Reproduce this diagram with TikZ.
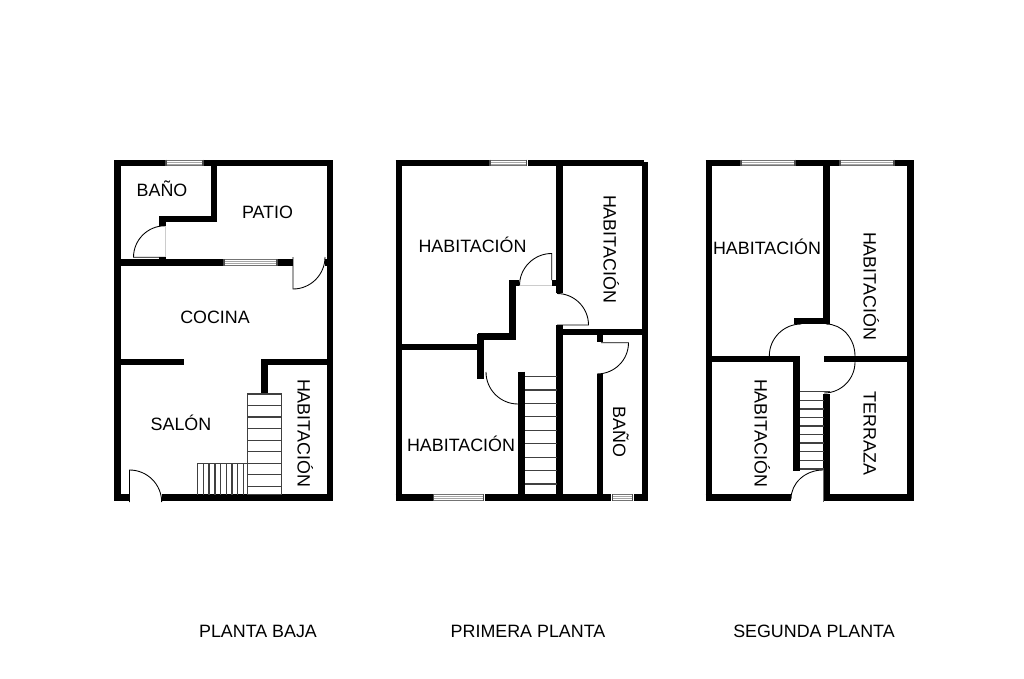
\documentclass[tikz,border=0pt]{standalone}
\usepackage{fontspec}
\setmainfont{Liberation Sans}
\tikzset{
  wall/.style={line width=5.1pt,line cap=butt,line join=miter,black},
  thin line/.style={line width=0.65pt,black},
  tread/.style={line width=0.8pt,black!75},
  ghost/.style={line width=0.5pt,black!20},
  room/.style={font=\fontsize{13.4pt}{15pt}\selectfont,text height=9.7pt,text depth=0pt,inner sep=0pt,anchor=center},
  roomv/.style={room,rotate=-90}
}
\newcommand{\hwin}[3]{%
  \fill[white] (#1,#3-3.4) rectangle (#2,#3+3.4);
  \draw[line width=0.7pt,black!55] (#1+1.5,#3-2.8) -- (#2-1.5,#3-2.8) (#1+1.5,#3+2.8) -- (#2-1.5,#3+2.8);
  \draw[line width=0.6pt,black!35] (#1+1.5,#3-1) -- (#2-1.5,#3-1) (#1+1.5,#3+1) -- (#2-1.5,#3+1);
  \draw[line width=1.1pt,black!70] (#1+1,#3-3.4) -- (#1+1,#3+3.4) (#2-1,#3-3.4) -- (#2-1,#3+3.4);
}
\begin{document}
\begin{tikzpicture}[x=0.75pt,y=-0.75pt]
\useasboundingbox (0,0) rectangle (1024,678);
\fill[white] (0,0) rectangle (1024,678);

% ---------- PLANTA BAJA ----------
\draw[wall] (114,163) -- (333.3,163);
\draw[wall] (117.3,160) -- (117.3,501);
\draw[wall] (330,160) -- (330,501);
\draw[wall] (114,497.7) -- (129.5,497.7) (161.7,497.7) -- (333.3,497.7);
\draw[wall] (214,163) -- (214,222) (217.2,219) -- (159.3,219) (162.3,216) -- (162.3,225.5);
\draw[wall] (117,262.7) -- (292.7,262.7) (325,262.7) -- (330,262.7);
\draw[wall] (162.3,257) -- (162.3,262);
\draw[wall] (117,362) -- (184.3,362);
\draw[wall] (330,362) -- (261.1,362) (264.3,359) -- (264.3,394);
\hwin{165}{204}{163}
\hwin{223}{278}{262.7}
% doors
\draw[thin line] (165,257.3) -- (133.5,257.3) arc[start angle=180,end angle=270,radius=31.5];
\draw[ghost] (165,225.8) -- (165,257.3);
\draw[thin line] (293,257) -- (293,289) arc[start angle=90,end angle=0,radius=32];
\draw[thin line] (129.5,502) -- (129.5,470) arc[start angle=-90,end angle=0,radius=32.2];
% stairs
\draw[tread] (247.7,394) rectangle (281.7,494.5);
\foreach \y in {405.5,417,428.7,440.3,451.7,463.3,474.7,486.2} \draw[tread] (247.7,\y) -- (281.7,\y);
\draw[tread] (247.7,463.3) -- (197.3,463.3);
\foreach \x in {197.3,203.2,209,215,220.7,226.7,232,237.7,243.3} \draw[tread] (\x,463.3) -- (\x,494.5);

% ---------- PRIMERA PLANTA ----------
\draw[wall] (395.7,163) -- (644.3,163);
\draw[wall] (399,160) -- (399,501);
\draw[wall] (645,162) -- (645,501);
\draw[wall] (395.7,497.7) -- (648.3,497.7);
\draw[wall] (559.5,160) -- (559.5,293);
\draw[wall] (559.5,325) -- (559.5,497);
\draw[wall] (556.5,332) -- (645,332);
\draw[wall] (509.3,283) -- (519.3,283) (551.7,283) -- (557,283);
\draw[wall] (512.3,280) -- (512.3,339.7) (515.3,336.7) -- (477.7,336.7) (480.7,333.7) -- (480.7,379.3);
\draw[wall] (402,347) -- (480,347);
\draw[line width=5.4pt,black] (521.7,371.7) -- (521.7,497);
\draw[wall] (600,332) -- (600,342.3) (600,374.3) -- (600,497);
\hwin{489}{527.7}{163}
\hwin{432.7}{484.7}{497.7}
\hwin{611.3}{633.7}{497.7}
% doors
\draw[thin line] (519.5,285.7) arc[start angle=180,end angle=270,radius=32.2] -- (551.7,280);
\draw[ghost] (519.5,285.7) -- (551.7,285.7);
\draw[thin line] (557,293.5) arc[start angle=-90,end angle=0,radius=31.5] -- (557,325);
\draw[thin line] (486,372) arc[start angle=180,end angle=90,radius=32];
\draw[thin line] (601,342.7) -- (628.5,342.7) arc[start angle=0,end angle=90,radius=31.2];
% stairs
\foreach \y in {376.7,390,403.3,416.7,430.3,443.7,457.3,470.7,484} \draw[tread] (525,\y) -- (557,\y);

% ---------- SEGUNDA PLANTA ----------
\draw[wall] (705.7,163) -- (913.3,163);
\draw[wall] (709,160) -- (709,501);
\draw[wall] (910.3,160) -- (910.3,501);
\draw[wall] (705.7,497.5) -- (790.7,497.5) (823.3,497.5) -- (913.3,497.5);
\draw[wall] (826.8,160) -- (826.8,324) (830,321) -- (793.7,321);
\draw[wall] (709,359) -- (800,359) (796.7,356) -- (796.7,471);
\draw[wall] (824.3,359) -- (910,359);
\draw[wall] (826.8,394) -- (826.8,497);
\hwin{740}{796}{163}
\hwin{839}{895}{163}
% doors
\draw[thin line] (769.3,356) arc[start angle=180,end angle=270,radius=32];
\draw[thin line] (826,324) arc[start angle=-90,end angle=0,x radius=29,y radius=32];
\draw[thin line] (855,356) -- (855,362) arc[start angle=0,end angle=90,radius=31];
\draw[thin line] (791,499) arc[start angle=180,end angle=270,x radius=32,y radius=29];
\draw[line width=0.8pt,black!60] (823.2,470) -- (823.2,502);
% stairs
\draw[tread] (800,391.7) -- (830,391.7);
\foreach \y in {400.3,409,417.3,426,434.7,443,451.7,460.3,469} \draw[tread] (800,\y) -- (823.7,\y);

% ---------- LABELS ----------
\node[room] (banoA) at (162,190) {BAÑO};
\node[room] (patio) at (267.5,212.5) {PATIO};
\node[room] (cocina) at (215,317.5) {COCINA};
\node[room] (salon) at (181,424.5) {SALÓN};
\node[roomv] (habA) at (304,433) {HABITACIÓN};
\node[room] (habB) at (472.5,246.5) {HABITACIÓN};
\node[roomv] (habC) at (610,249) {HABITACIÓN};
\node[room] (habD) at (461,445.5) {HABITACIÓN};
\node[roomv] (banoB) at (619.5,432) {BAÑO};
\node[room] (habE) at (767,248) {HABITACIÓN};
\node[roomv] (habF) at (870,286) {HABITACIÓN};
\node[roomv] (habG) at (761,433) {HABITACIÓN};
\node[roomv] (terraza) at (870,433.5) {TERRAZA};
\node[room] (pb) at (258,631.5) {PLANTA BAJA};
\node[room] (pp) at (528,631.5) {PRIMERA PLANTA};
\node[room] (sp) at (814,631.5) {SEGUNDA PLANTA};
\end{tikzpicture}
\end{document}
